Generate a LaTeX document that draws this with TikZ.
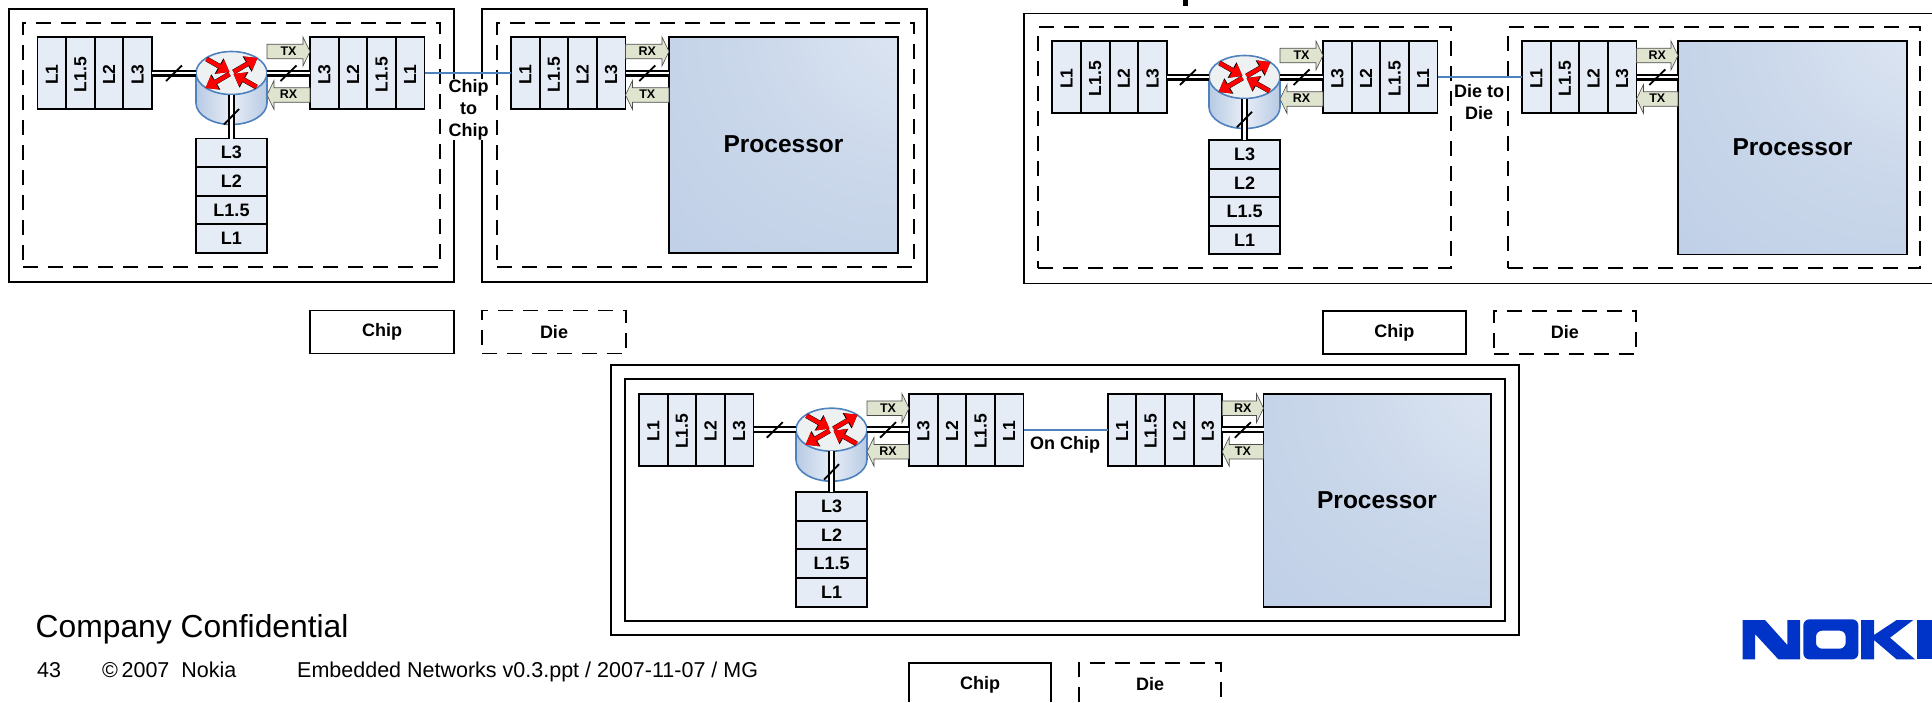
\documentclass[tikz,border=0pt]{standalone}
\usepackage{fontspec}
\setmainfont{Liberation Sans}
\usetikzlibrary{shapes.geometric,arrows.meta}
\definecolor{cellblue}{HTML}{E6ECF6}
\definecolor{procA}{HTML}{E4EBF5}
\definecolor{procB}{HTML}{CBD8EB}
\definecolor{procC}{HTML}{BFCFE6}
\definecolor{procD}{HTML}{B4C7E2}
\definecolor{cylblue}{HTML}{B7CAE3}
\definecolor{cyllight}{HTML}{E8EEF7}
\definecolor{cylline}{HTML}{4F81BD}
\definecolor{linkblue}{HTML}{4F81BD}
\definecolor{flagfill}{HTML}{DFE4CF}
\definecolor{rtrtop}{HTML}{EEF1F2}
\definecolor{nokiablue}{HTML}{0033C8}
\pgfdeclareradialshading{procshade}{\pgfpoint{38bp}{38bp}}{color(0bp)=(procA); color(35bp)=(procB); color(65bp)=(procC); color(88bp)=(procD); color(130bp)=(procD)}
\tikzset{
  box/.style={draw=black,line width=1.9pt,inner sep=0pt,outer sep=0pt},
  chipbox/.style={box,fill=none},
  diebox/.style={box,dash pattern=on 15pt off 10pt},
  cell/.style={box,fill=cellblue,font=\fontsize{18}{20}\selectfont\bfseries},
  rcell/.style={box,fill=cellblue,font=\fontsize{17.5}{20}\selectfont\bfseries},
  proc/.style={box,shade,shading=procshade,font=\fontsize{24.5}{28}\selectfont\bfseries},
  dbl/.style={draw=black,line width=2.2pt,double=white,double distance=2.6pt},
  slash/.style={draw=black,line width=1.8pt},
  blueline/.style={draw=linkblue,line width=2.2pt},
  flag/.style={draw=black!70,line width=0.6pt,fill=flagfill},
  flagtext/.style={inner sep=0pt,font=\fontsize{12.5}{14}\selectfont\bfseries},
  caption/.style={inner sep=0pt,font=\fontsize{18}{22}\selectfont\bfseries,align=center},
  foot/.style={inner sep=0pt,anchor=base west},
}
\newcommand\flagR[3]{\draw[flag] (#1,#3-7.25) -- ({#2-7},#3-7.25) -- ({#2-7},#3-14.5) -- (#2,#3) -- ({#2-7},#3+14.5) -- ({#2-7},#3+7.25) -- (#1,#3+7.25) -- cycle;}
\newcommand\flagL[3]{\draw[flag] (#2,#3-7.25) -- ({#1+7},#3-7.25) -- ({#1+7},#3-14.5) -- (#1,#3) -- ({#1+7},#3+14.5) -- ({#1+7},#3+7.25) -- (#2,#3+7.25) -- cycle;}
\newcommand\rtrarrow[4]{%
  \draw[black,line width=5pt,-{Triangle[length=12pt,width=17pt]}] (\rcx+#1,\rcy+#2) -- (\rcx+#3,\rcy+#4);
  \draw[red,line width=4.2pt,-{Triangle[length=11pt,width=15.5pt]}] (\rcx+#1,\rcy+#2) -- (\rcx+#3,\rcy+#4);}
% #1 prefix #2 Ax #3 Rx #4 Bx #5 Cx #6 Px #7 Pend #8 Y #9 H
\newcommand\netgroup[9]{%
  \pgfmathsetmacro\cellw{114.5/4}
  \pgfmathsetmacro\rcx{#3+35.5}
  \pgfmathsetmacro\rcy{#8+36}
  \pgfmathsetmacro\rbot{#8+87.5-21.5}
  \pgfmathsetmacro\vtop{#8+#9-114.5}
  \foreach \lab [count=\i] in {L1,L1.5,L2,L3}
    \node[rcell,minimum width=\cellw pt,minimum height=72pt] (#1a\i) at ({#2+(\i-.5)*\cellw},#8+36) {\rotatebox{90}{\lab\kern3pt}};
  \foreach \lab [count=\i] in {L3,L2,L1.5,L1}
    \node[rcell,minimum width=\cellw pt,minimum height=72pt] (#1b\i) at ({#4+(\i-.5)*\cellw},#8+36) {\rotatebox{90}{\lab\kern3pt}};
  \foreach \lab [count=\i] in {L1,L1.5,L2,L3}
    \node[rcell,minimum width=\cellw pt,minimum height=72pt] (#1c\i) at ({#5+(\i-.5)*\cellw},#8+36) {\rotatebox{90}{\lab\kern3pt}};
  \foreach \lab [count=\i] in {L3,L2,L1.5,L1}
    \node[cell,minimum width=71pt,minimum height=28.6pt] (#1v\i) at (\rcx,{\vtop+(\i-.5)*28.6}) {\lab};
  \node[proc,minimum width={(#7-#6)*1pt},minimum height={#9*1pt}] (#1p) at ({(#6+#7)/2},{#8+#9/2}) {\raisebox{1pt}{Processor}};
  \draw[draw=cylline,line width=1.6pt,left color=cylblue,right color=cylblue,middle color=cyllight]
    (#3,\rcy) -- (#3,\rbot) arc[start angle=180,end angle=360,x radius=35.5pt,y radius=21.5pt] -- ({#3+71},\rcy) -- cycle;
  \node[ellipse,draw=cylline,line width=1.6pt,fill=rtrtop,minimum width=71pt,minimum height=43pt,inner sep=0pt,outer sep=0pt] (#1r) at (\rcx,\rcy) {};
  \rtrarrow{-25}{-14}{-2}{-1}
  \rtrarrow{2}{-1}{26}{-15}
  \rtrarrow{-2}{1}{-26}{15}
  \rtrarrow{25}{14}{2}{1}
  \flagR{\rcx+35.5}{#4}{#8+14.5}
  \flagL{\rcx+35.5}{#4}{#8+58}
  \flagR{#5+114.5}{#6}{#8+14.5}
  \flagL{#5+114.5}{#6}{#8+58}
  \node[flagtext] (#1t1) at ({(\rcx+35.5+#4)/2},#8+14.5) {TX};
  \node[flagtext] (#1t2) at ({(\rcx+35.5+#4)/2},#8+57.5) {RX};
  \node[flagtext] (#1t3) at ({(#5+114.5+#6)/2},#8+14.5) {RX};
  \node[flagtext] (#1t4) at ({(#5+114.5+#6)/2},#8+57.5) {TX};
  \draw[dbl] (#1a4.east) -- (#1r.west) coordinate[midway] (#1m1);
  \draw[dbl] (#1r.east) -- (#1b1.west) coordinate[midway] (#1m2);
  \draw[dbl] (#1r.south) -- (#1v1.north) coordinate[midway] (#1m3);
  \draw[dbl] (#1c4.east) -- (#1c4.east -| #1p.west) coordinate[midway] (#1m4);
  \draw[slash] (#1m1)+(-8,8) -- +(8,-7.5);
  \draw[slash] (#1m2)+(-8,8) -- +(8,-7.5);
  \draw[slash] (#1m3)+(-7.5,8) -- +(7.5,-7.5);
  \draw[slash] (#1m4)+(-8,8) -- +(8,-7.5);
  \draw[blueline] (#1b4.east) -- (#1c1.west);
}
\begin{document}
\begin{tikzpicture}[x=1pt,y=-1pt]
\useasboundingbox (0,0) rectangle (1932,702);
\fill[black] (1182.5,0) rectangle (1187.5,6);

% --- Chip to chip
\node[chipbox,minimum width=445pt,minimum height=273pt] (c1a) at (231.5,145.5) {};
\node[chipbox,minimum width=445pt,minimum height=273pt] (c1b) at (704.5,145.5) {};
\node[diebox,minimum width=417pt,minimum height=244pt] (d1a) at (231.5,145) {};
\node[diebox,minimum width=417pt,minimum height=244pt] (d1b) at (705.5,145) {};
\netgroup{g}{37.5}{196}{310}{511}{669}{898}{37}{216}
\node[caption,fill=white] (lab1) at (468.5,109.5) {Chip\\to\\Chip};
\node[chipbox,minimum width=144pt,minimum height=43pt,font=\fontsize{18}{20}\selectfont\bfseries] (lc1) at (382,332) {Chip};
\node[diebox,minimum width=144pt,minimum height=43pt,font=\fontsize{18}{20}\selectfont\bfseries] (ld1) at (554,332) {Die};

% --- Die to die
\draw[box] (1932,13.5) -- (1024,13.5) -- (1024,283.5) -- (1932,283.5);
\node[diebox,minimum width=412.5pt,minimum height=241pt] (d2a) at (1244.5,147.5) {};
\node[diebox,minimum width=412.5pt,minimum height=241pt] (d2b) at (1713.8,147.5) {};
\netgroup{h}{1052.3}{1209}{1323}{1522}{1678}{1907}{41}{213.5}
\node[caption] (lab2) at (1479,102.5) {Die to\\Die};
\node[chipbox,minimum width=142.5pt,minimum height=43pt,font=\fontsize{18}{20}\selectfont\bfseries] (lc2) at (1394.3,332.5) {Chip};
\node[diebox,minimum width=142.5pt,minimum height=43pt,font=\fontsize{18}{20}\selectfont\bfseries] (ld2) at (1564.8,332.5) {Die};

% --- On chip
\node[chipbox,minimum width=908.5pt,minimum height=270pt] (c3) at (1065,500) {};
\node[chipbox,minimum width=880pt,minimum height=241.5pt] (d3) at (1065,500) {};
\netgroup{k}{639}{796}{909}{1107.7}{1263.5}{1490.6}{393.7}{213}
\node[caption] (lab3) at (1065,444.5) {On Chip};
\draw[box] (909,702) -- (909,663) -- (1051,663) -- (1051,702);
\draw[box,dash pattern=on 15pt off 10pt] (1078.6,702) -- (1078.6,663) -- (1221,663) -- (1221,702);
\node[caption] (lc3) at (980,685) {Chip};
\node[caption] (ld3) at (1150,684) {Die};

% --- footer
\node[foot,font=\fontsize{31.8}{36}\selectfont] (f1) at (35.5,637) {Company Confidential};
\node[foot,font=\fontsize{21.5}{24}\selectfont] (f2) at (37,677) {43};
\node[foot,font=\fontsize{21.5}{24}\selectfont] (f3) at (102,677) {©\,2007\ \ Nokia};
\node[foot,font=\fontsize{21.5}{24}\selectfont] (f4) at (297,677) {Embedded Networks v0.3.ppt / 2007-11-07 / MG};

% --- logo, cut off by the page edge
\begin{scope}[shift={(1700,590)},x=0.3333pt,y=-0.3333pt]
\fill[nokiablue] (128,90) -- (195,90) -- (262,165) -- (262,90) -- (300,90) -- (300,208) -- (235,208) -- (165,132) -- (165,208) -- (128,208) -- cycle;
\fill[nokiablue,even odd rule,rounded corners=6pt] (310,88) rectangle (475,208) (348,122) rectangle (437,176);
\fill[nokiablue] (483,90) -- (522,90) -- (522,135) -- (590,90) -- (640,90) -- (570,143) -- (645,208) -- (590,208) -- (522,150) -- (522,208) -- (483,208) -- cycle;
\fill[nokiablue] (650,90) rectangle (696,208);
\end{scope}
\end{tikzpicture}
\end{document}
